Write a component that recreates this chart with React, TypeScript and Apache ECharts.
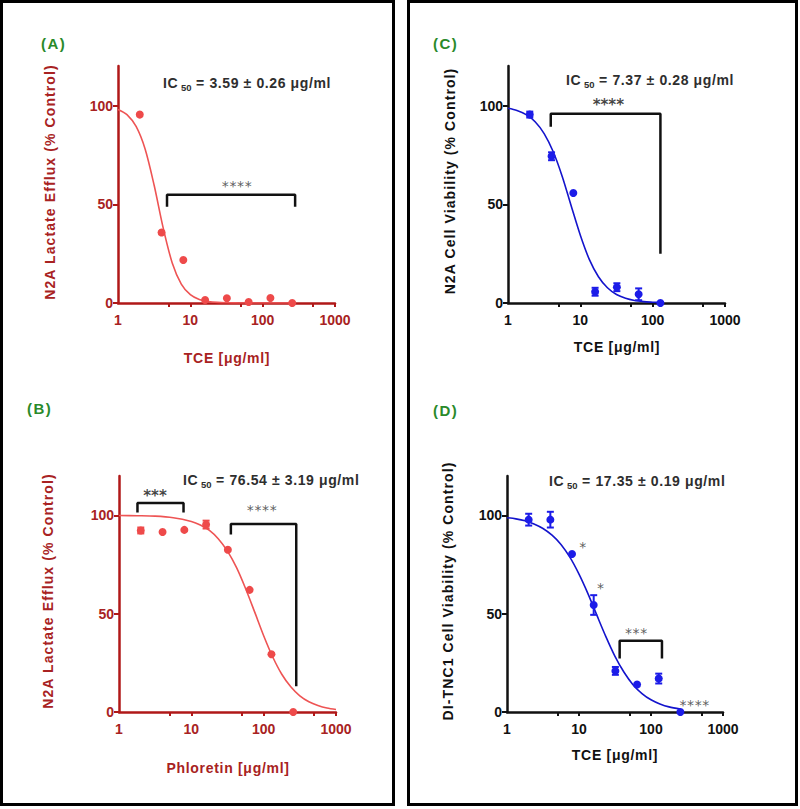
import React, { useEffect, useRef } from 'react';
import * as echarts from 'echarts';

// ---------- data ----------
const doses = [2, 4, 8, 16, 32, 64, 128, 256];
const cDoses = [2, 4, 8, 16, 32, 64, 128];

const aValues = [95.4, 35.7, 21.8, 1.5, 2.4, 0.5, 2.5, 0];
const aErrors = [0, 0, 0, 0, 0, 0, 0, 0];

const bValues = [92.3, 91.5, 92.6, 95.3, 82.5, 62.1, 29.4, 0];
const bErrors = [1.5, 0, 0, 2, 0, 0, 0, 0];

const cValues = [95.4, 74.3, 55.7, 5.7, 8.0, 4.4, 0];
const cErrors = [1.5, 2, 0, 2, 2, 3, 0];

const dValues = [97.8, 97.8, 80.3, 54.4, 20.9, 14.0, 17.0, 0];
const dErrors = [3, 4, 0, 5, 2, 0, 2.5, 0];

// fitted curves at evenly spaced log positions
const aCurveX = [1, 1.33, 1.78, 2.37, 3.16, 4.22, 5.62, 7.5, 10, 13.3, 17.8, 23.7, 31.6, 42.2, 56.2, 100, 256];
const aCurveY = [98, 95.4, 89.4, 78, 59.6, 37.9, 20.3, 9.6, 4.2, 1.8, 0.8, 0.3, 0.1, 0.05, 0, 0, 0];
const bCurveX = [1, 1.78, 3.16, 5.62, 10, 13.3, 17.8, 23.7, 31.6, 42.2, 56.2, 75, 100, 133, 178, 237, 316, 422, 562, 750, 1000];
const bCurveY = [99.9, 99.8, 99.6, 98.8, 96.9, 95.1, 92.3, 88, 81.8, 73.4, 62.8, 50.9, 38.8, 28.1, 19.2, 12.8, 8.2, 5.2, 3.3, 2, 1.3];
const cCurveX = [1, 1.33, 1.78, 2.37, 3.16, 4.22, 5.62, 7.5, 10, 13.3, 17.8, 23.7, 31.6, 42.2, 56.2, 75, 100, 128];
const cCurveY = [98.6, 97.5, 95.4, 91.8, 85.8, 76.6, 64.1, 49, 34.3, 22.1, 13.3, 7.7, 4.3, 2.4, 1.3, 0.7, 0.4, 0.2];
const dCurveX = [1, 1.33, 1.78, 2.37, 3.16, 4.22, 5.62, 7.5, 10, 13.3, 17.8, 23.7, 31.6, 42.2, 56.2, 75, 100, 133, 178, 256];
const dCurveY = [98.8, 98.2, 97.2, 95.6, 93.3, 89.9, 85.2, 78.6, 70.1, 60.2, 49, 38.2, 28.3, 20.2, 13.9, 9.4, 6.2, 4.1, 2.6, 1.5];

// significance brackets [x, y] corners
const aBracket = [[4.76, 48.7], [4.76, 54.8], [281, 54.8], [281, 48.7]];
const bBracket1 = [[1.8, 101.5], [1.8, 106.3], [7.8, 106.3], [7.8, 101.5]];
const bBracket2 = [[35.2, 90.2], [35.2, 95.6], [282, 95.6], [282, 13.1]];
const cBracket = [[3.9, 89.2], [3.9, 95.8], [128, 95.8], [128, 24.9]];
const dBracket = [[36.7, 27.2], [36.7, 36.2], [142, 36.2], [142, 27.2]];

// significance stars: x, y, text
const aStarsX = [44.3];
const aStarsY = [59.3];
const aStarsText = ['****'];
const bStarsX = [3.15, 95];
const bStarsY = [109.8, 102.7];
const bStarsText = ['***', '****'];
const cStarsX = [24.4];
const cStarsY = [100.2];
const cStarsText = ['****'];
const dStarsX = [11.4, 20, 62.7, 404];
const dStarsY = [83.8, 62.8, 40.3, 3.5];
const dStarsText = ['*', '*', '***', '****'];

const xLabelValues = [1, 10, 100, 1000];
const xTickValues = [5, 10, 50, 100, 500, 1000];
const yLabelValues = [0, 50, 100];

const FONT = "'Liberation Sans', Arial, Helvetica, sans-serif";
const STAR_FONT = "'DejaVu Sans', sans-serif";

const RED_AXIS = '#b01818';
const RED_LABEL = '#a82222';
const RED_POINT = '#ee4a4a';
const RED_CURVE = '#ee5454';
const BLUE_POINT = '#1c1ce8';
const BLUE_CURVE = '#1414cc';
const BLACK = '#111111';
const GREEN = '#2a8a2a';

// letter spacing for the spaced-out titles (selected by their font size)
const CSS = `
#fig-root text[style*="14.01px"] { letter-spacing: 1.1px; }
#fig-root text[style*="14.03px"] { letter-spacing: 0.7px; }
#fig-root text[style*="14.04px"] { letter-spacing: 0.6px; }
#fig-root text[style*="14.02px"] { letter-spacing: 0.6px; }
#fig-root text[style*="15.03px"] { letter-spacing: 0px; }
#fig-root text[style*="15.01px"] { letter-spacing: 1.5px; }
`;

function zip(xs: number[], ys: number[]) {
  return xs.map((x, i) => [x, ys[i]]);
}

export default function App() {
  const ref = useRef<HTMLDivElement>(null);

  useEffect(() => {
    if (!ref.current) return;
    const chart = echarts.init(ref.current, undefined, { renderer: 'svg' });

    const grids = [
      { left: 118, top: 66, width: 217, height: 237 },
      { left: 119, top: 476, width: 217, height: 236 },
      { left: 508, top: 66, width: 217, height: 237 },
      { left: 507, top: 476, width: 216, height: 236 },
    ];
    const axisColors = [RED_AXIS, RED_AXIS, BLACK, BLACK];
    const labelColors = [RED_LABEL, RED_LABEL, BLACK, BLACK];

    const xAxes = grids.map((_, i) => ({
      type: 'log',
      logBase: 10,
      min: 1,
      max: 1000,
      gridIndex: i,
      axisLine: { show: true, onZero: false, lineStyle: { color: axisColors[i], width: 2.5 } },
      axisTick: { show: true, length: 4, inside: false, lineStyle: { color: axisColors[i], width: 2 }, customValues: xTickValues },
      axisLabel: {
        color: labelColors[i], fontSize: 14, fontWeight: 'bold', fontFamily: FONT, margin: 10,
        customValues: xLabelValues, formatter: (v: number) => String(Math.round(v)),
      },
      splitLine: { show: false },
      minorTick: { show: false },
    }));
    const yAxes = grids.map((_, i) => ({
      type: 'value',
      min: 0,
      max: 120,
      gridIndex: i,
      axisLine: { show: true, onZero: false, lineStyle: { color: axisColors[i], width: 2.5 } },
      axisTick: { show: true, length: 5, lineStyle: { color: axisColors[i], width: 2 }, customValues: yLabelValues },
      axisLabel: { color: labelColors[i], fontSize: 14, fontWeight: 'bold', fontFamily: FONT, margin: 5, customValues: yLabelValues },
      splitLine: { show: false },
    }));

    const small = { size: 14.02, weight: 'normal', color: '#333' };
    const big = { size: 15.03, weight: 'bold', color: '#111' };
    const panels = [
      { x: doses, y: aValues, e: aErrors, cx: aCurveX, cy: aCurveY, brackets: [aBracket], sx: aStarsX, sy: aStarsY, st: aStarsText, pc: RED_POINT, cc: RED_CURVE,
        starStyle: [small] },
      { x: doses, y: bValues, e: bErrors, cx: bCurveX, cy: bCurveY, brackets: [bBracket1, bBracket2], sx: bStarsX, sy: bStarsY, st: bStarsText, pc: RED_POINT, cc: RED_CURVE,
        starStyle: [big, small] },
      { x: cDoses, y: cValues, e: cErrors, cx: cCurveX, cy: cCurveY, brackets: [cBracket], sx: cStarsX, sy: cStarsY, st: cStarsText, pc: BLUE_POINT, cc: BLUE_CURVE,
        starStyle: [big] },
      { x: doses, y: dValues, e: dErrors, cx: dCurveX, cy: dCurveY, brackets: [dBracket], sx: dStarsX, sy: dStarsY, st: dStarsText, pc: BLUE_POINT, cc: BLUE_CURVE,
        starStyle: [small, small, small, small] },
    ];

    const series: any[] = [];
    panels.forEach((p, i) => {
      series.push({
        type: 'line', xAxisIndex: i, yAxisIndex: i, data: zip(p.cx, p.cy), smooth: 0.3,
        showSymbol: false, symbol: 'none', lineStyle: { color: p.cc, width: 1.6 }, z: 2, silent: true,
      });
      series.push({
        type: 'custom', xAxisIndex: i, yAxisIndex: i, z: 3, silent: true,
        data: p.x.map((x, k) => [x, p.y[k], p.e[k]]),
        renderItem: (params: any, api: any) => {
          const x = api.value(0), y = api.value(1), e = api.value(2);
          if (!e) return { type: 'group', children: [] };
          const top = api.coord([x, y + e]);
          const bot = api.coord([x, y - e]);
          const style = { stroke: p.pc, lineWidth: 2 };
          return {
            type: 'group',
            children: [
              { type: 'line', shape: { x1: top[0], y1: top[1], x2: bot[0], y2: bot[1] }, style },
              { type: 'line', shape: { x1: top[0] - 3.5, y1: top[1], x2: top[0] + 3.5, y2: top[1] }, style },
              { type: 'line', shape: { x1: bot[0] - 3.5, y1: bot[1], x2: bot[0] + 3.5, y2: bot[1] }, style },
            ],
          };
        },
      });
      series.push({
        type: 'scatter', xAxisIndex: i, yAxisIndex: i, data: zip(p.x, p.y), symbol: 'circle', symbolSize: 8,
        itemStyle: { color: p.pc, opacity: 1 }, z: 4, silent: true,
      });
      p.brackets.forEach((b) => {
        series.push({
          type: 'line', xAxisIndex: i, yAxisIndex: i, data: b, symbol: 'none', showSymbol: false,
          lineStyle: { color: '#111', width: 2.5 }, z: 5, silent: true,
        });
      });
      p.sx.forEach((sx, k) => {
        const ss = p.starStyle[k];
        series.push({
          type: 'scatter', xAxisIndex: i, yAxisIndex: i, data: [[sx, p.sy[k]]], symbolSize: 1, silent: true, z: 6,
          itemStyle: { color: 'rgba(0,0,0,0)' },
          label: {
            show: true, position: 'inside', formatter: p.st[k], color: ss.color, fontSize: ss.size,
            fontWeight: ss.weight, fontFamily: STAR_FONT,
          },
        });
      });
    });

    const ic50Text = (txt: string) => ({
      text: '{a|IC}{b|50}{a| = ' + txt + '}',
      rich: {
        a: { fontSize: 14.04, fontWeight: 'bold', fill: '#2e2e2e', fontFamily: FONT },
        b: { fontSize: 9.5, fontWeight: 'bold', fill: '#2e2e2e', fontFamily: FONT, padding: [8, 0, 0, 4] },
      },
      verticalAlign: 'middle',
      align: 'left',
    });

    const t = (x: number, y: number, text: string, opts: any = {}) => ({
      type: 'text', x, y, rotation: opts.rotation || 0, silent: true,
      style: {
        text, fill: opts.color || BLACK, fontSize: opts.size || 14, fontWeight: opts.weight || 'bold',
        fontFamily: FONT, align: opts.align || 'center', verticalAlign: 'middle',
      },
    });

    const graphic: any[] = [
      { type: 'rect', shape: { x: 1.5, y: 1.5, width: 392, height: 803 }, style: { fill: 'none', stroke: '#000', lineWidth: 3 }, silent: true },
      { type: 'rect', shape: { x: 408.5, y: 1.5, width: 388, height: 803 }, style: { fill: 'none', stroke: '#000', lineWidth: 3 }, silent: true },
      t(41, 43, '(A)', { color: GREEN, size: 15.01, align: 'left' }),
      t(27, 408, '(B)', { color: GREEN, size: 15.01, align: 'left' }),
      t(433, 43, '(C)', { color: GREEN, size: 15.01, align: 'left' }),
      t(433, 410, '(D)', { color: GREEN, size: 15.01, align: 'left' }),
      t(50, 182, 'N2A Lactate Efflux (% Control)', { color: RED_LABEL, rotation: Math.PI / 2, size: 14.01 }),
      t(48, 591, 'N2A Lactate Efflux (% Control)', { color: RED_LABEL, rotation: Math.PI / 2, size: 14.01 }),
      t(450, 181, 'N2A Cell Viability (% Control)', { color: BLACK, rotation: Math.PI / 2, size: 14.01 }),
      t(448, 591, 'DI-TNC1 Cell Viability (% Control)', { color: BLACK, rotation: Math.PI / 2, size: 14.01 }),
      t(227, 358, 'TCE [μg/ml]', { color: RED_LABEL, size: 14.03 }),
      t(228, 768, 'Phloretin [μg/ml]', { color: RED_LABEL, size: 14.03 }),
      t(617, 347, 'TCE [μg/ml]', { color: BLACK, size: 14.03 }),
      t(615, 755, 'TCE [μg/ml]', { color: BLACK, size: 14.03 }),
      { type: 'text', x: 163, y: 83, silent: true, style: ic50Text('3.59 ± 0.26 μg/ml') },
      { type: 'text', x: 183, y: 480, silent: true, style: ic50Text('76.54 ± 3.19 μg/ml') },
      { type: 'text', x: 566, y: 80, silent: true, style: ic50Text('7.37 ± 0.28 μg/ml') },
      { type: 'text', x: 549, y: 481, silent: true, style: ic50Text('17.35 ± 0.19 μg/ml') },
    ];

    chart.setOption({
      animation: false,
      backgroundColor: '#ffffff',
      grid: grids.map((g) => ({ ...g, containLabel: false, outerBoundsMode: 'none' })),
      xAxis: xAxes,
      yAxis: yAxes,
      series,
      graphic,
    } as any);

    return () => chart.dispose();
  }, []);

  return (
    <>
      <style>{CSS}</style>
      <div
        id="fig-root"
        ref={ref}
        style={{ position: 'absolute', left: 0, top: 0, width: 800, height: 809, background: '#fff' }}
      />
    </>
  );
}
